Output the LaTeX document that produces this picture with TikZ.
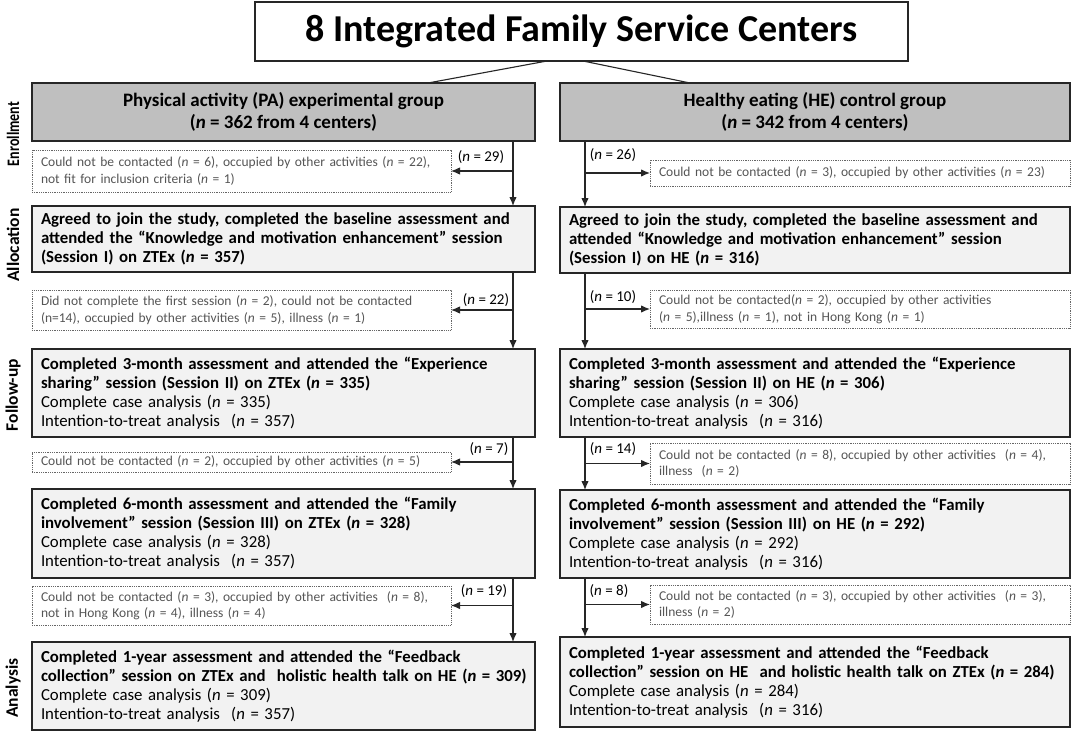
\documentclass[tikz,border=0pt]{standalone}
\usepackage{fontspec}
\setmainfont{Carlito}
\usetikzlibrary{arrows.meta}
\definecolor{hdrgray}{HTML}{BFBFBF}
\definecolor{boxgray}{HTML}{F2F2F2}
\definecolor{edge}{HTML}{262626}
\definecolor{dtext}{HTML}{555555}
\newcommand{\oneline}[1]{\mbox{#1}}
\begin{document}
\begin{tikzpicture}[x=1pt,y=-1pt,
  mbox/.style={draw=edge, line width=1.4pt, fill=boxgray, anchor=north west, align=left,
    inner xsep=9pt, inner ysep=0pt, outer sep=0pt, font=\fontsize{16.8}{19}\selectfont},
  hbox/.style={draw=edge, line width=1.4pt, fill=hdrgray, anchor=north west, align=center,
    inner sep=0pt, outer sep=0pt, font=\bfseries\fontsize{19}{22}\selectfont},
  dbox/.style={draw=black!60, dash pattern=on 1pt off 0.8pt, line width=0.9pt, fill=white,
    anchor=north west, align=left, inner xsep=9pt, inner ysep=0pt, outer sep=0pt,
    text=dtext, font=\fontsize{13.5}{16.5}\selectfont},
  lbl/.style={font=\fontsize{15}{17}\selectfont, inner sep=0pt},
  arr/.style={-{Latex[length=9pt,width=7.5pt]}, line width=1.2pt, draw=edge},
  side/.style={rotate=90, font=\bfseries\fontsize{17.5}{20}\selectfont, inner sep=0pt}]
\useasboundingbox (0,0) rectangle (1074,733);
\fill[white] (0,0) rectangle (1074,733);

\coordinate (lx) at (513,0);
\coordinate (rx) at (585,0);

% title
\node[draw=edge, line width=1.2pt, fill=white, anchor=north west, minimum width=653pt,
  minimum height=59pt, inner sep=0pt, outer sep=0pt,
  font=\bfseries\fontsize{38}{44}\selectfont] (title) at (255,2) {8 Integrated Family Service Centers};

% side labels
\node[side] (s1) at (13,134) {\scalebox{0.8}[1]{Enrollment}};
\node[side] (s2) at (13,245) {Allocation};
\node[side] (s3) at (13,395) {Follow-up};
\node[side] (s4) at (13,688) {Analysis};

% headers
\node[hbox, minimum width=503pt, minimum height=58pt] (pa) at (32,83)
  {Physical activity (PA) experimental group\\(\textit{n} = 362 from 4 centers)};
\node[hbox, minimum width=510pt, minimum height=58pt] (he) at (560,83)
  {Healthy eating (HE) control group\\(\textit{n} = 342 from 4 centers)};

\draw[line width=1.1pt, edge] (title.south -| 547,0) -- (pa.north -| 428,0);
\draw[line width=1.1pt, edge] (title.south -| 583,0) -- (he.north -| 690,0);

% left column
\node[dbox, text width=401pt, minimum height=42pt] (d1L) at (32,150)
  {Could not be contacted (\textit{n} = 6), occupied by other activities (\textit{n} = 22),\\not fit for inclusion criteria (\textit{n} = 1)};
\node[mbox, text width=485pt, minimum height=66pt, font=\bfseries\fontsize{16.8}{19}\selectfont] (aL) at (32,206)
  {\oneline{Agreed to join the study, completed the baseline assessment and}\\\oneline{attended the “Knowledge and motivation enhancement” session}\\(Session I) on ZTEx (\textit{n} = 357)};
\node[dbox, text width=401pt, minimum height=40pt] (d2L) at (32,290)
  {Did not complete the first session (\textit{n} = 2), could not be contacted\\(n=14), occupied by other activities (\textit{n} = 5), illness (\textit{n} = 1)};
\node[mbox, text width=485pt, minimum height=88pt] (bL) at (32,349)
  {\oneline{\textbf{Completed 3-month assessment and attended the  “Experience}}\\\textbf{sharing” session (Session II) on ZTEx (\textit{n} = 335)}\\Complete case analysis (\textit{n} = 335)\\Intention-to-treat analysis~ (\textit{n} = 357)};
\node[dbox, text width=401pt, minimum height=20pt] (d3L) at (32,452)
  {Could not be contacted (\textit{n} = 2), occupied by other activities (\textit{n} = 5)};
\node[mbox, text width=485pt, minimum height=89pt] (cL) at (32,489)
  {\textbf{Completed 6-month assessment and attended the “Family}\\\oneline{\textbf{involvement” session (Session III) on ZTEx (\textit{n} = 328)}}\\Complete case analysis (\textit{n} = 328)\\Intention-to-treat analysis~ (\textit{n} = 357)};
\node[dbox, text width=401pt, minimum height=39pt] (d4L) at (32,586)
  {Could not be contacted (\textit{n} = 3), occupied by other activities~ (\textit{n} = 8),\\not in Hong Kong (\textit{n} = 4), illness (\textit{n} = 4)};
\node[mbox, text width=485pt, minimum height=88pt] (eL) at (32,642)
  {\textbf{Completed 1-year assessment and attended the “Feedback}\\\oneline{\textbf{collection” session on ZTEx and~ holistic health talk on HE (\textit{n} = 309)}}\\Complete case analysis (\textit{n} = 309)\\Intention-to-treat analysis~ (\textit{n} = 357)};

% right column
\node[dbox, text width=402pt, minimum height=26pt] (d1R) at (650,160)
  {Could not be contacted (\textit{n} = 3), occupied by other activities (\textit{n} = 23)};
\node[mbox, text width=492pt, minimum height=66pt, font=\bfseries\fontsize{16.8}{19}\selectfont] (aR) at (560,207)
  {\oneline{Agreed to join the study, completed the baseline assessment and}\\attended “Knowledge and motivation enhancement” session\\(Session I) on HE (\textit{n} = 316)};
\node[dbox, text width=402pt, minimum height=38pt] (d2R) at (650,290)
  {Could not be contacted(\textit{n} = 2), occupied by other activities\\(\textit{n} = 5),illness (\textit{n} = 1), not in Hong Kong (\textit{n} = 1)};
\node[mbox, text width=492pt, minimum height=88pt] (bR) at (560,349)
  {\oneline{\textbf{Completed 3-month assessment and attended the “Experience}}\\\textbf{sharing” session (Session II) on HE (\textit{n} = 306)}\\Complete case analysis (\textit{n} = 306)\\Intention-to-treat analysis~ (\textit{n} = 316)};
\node[dbox, text width=402pt, minimum height=41pt] (d3R) at (650,443)
  {Could not be contacted (\textit{n} = 8), occupied by other activities~ (\textit{n} = 4),\\illness~ (\textit{n} = 2)};
\node[mbox, text width=492pt, minimum height=88pt] (cR) at (560,490)
  {\textbf{Completed 6-month assessment and attended the “Family}\\\textbf{involvement” session (Session III) on HE (\textit{n} = 292)}\\Complete case analysis (\textit{n} = 292)\\Intention-to-treat analysis~ (\textit{n} = 316)};
\node[dbox, text width=402pt, minimum height=39pt] (d4R) at (650,585)
  {Could not be contacted (\textit{n} = 3), occupied by other activities~ (\textit{n} = 3),\\illness (\textit{n} = 2)};
\node[mbox, text width=492pt, minimum height=90pt] (eR) at (560,637)
  {\textbf{Completed 1-year assessment and attended the “Feedback}\\\oneline{\textbf{collection” session on HE~ and holistic health talk on ZTEx (\textit{n} = 284)}}\\Complete case analysis (\textit{n} = 284)\\Intention-to-treat analysis~ (\textit{n} = 316)};

% labels
\node[lbl] (n29) at (481,157) {(\textit{n} = 29)};
\node[lbl] (n22) at (486,300) {(\textit{n} = 22)};
\node[lbl] (n7)  at (489,449) {(\textit{n} = 7)};
\node[lbl] (n19) at (484,591) {(\textit{n} = 19)};
\node[lbl] (n26) at (613,155) {(\textit{n} = 26)};
\node[lbl] (n10) at (613,297) {(\textit{n} = 10)};
\node[lbl] (n14) at (613,449) {(\textit{n} = 14)};
\node[lbl] (n8)  at (609,591) {(\textit{n} = 8)};

% left connectors
\draw[arr] (pa.south -| lx) -- (aL.north -| lx);
\draw[arr] (lx |- d1L.east) -- (d1L.east);
\draw[arr] (aL.south -| lx) -- (bL.north -| lx);
\draw[arr] (lx |- d2L.east) -- (d2L.east);
\draw[arr] (bL.south -| lx) -- (cL.north -| lx);
\draw[arr] (lx |- d3L.east) -- (d3L.east);
\draw[arr] (cL.south -| lx) -- (eL.north -| lx);
\draw[arr] (lx |- d4L.east) -- (d4L.east);

% right connectors
\draw[arr] (he.south -| rx) -- (aR.north -| rx);
\draw[arr] (rx |- d1R.west) -- (d1R.west);
\draw[arr] (aR.south -| rx) -- (bR.north -| rx);
\draw[arr] (rx |- d2R.west) -- (d2R.west);
\draw[arr] (bR.south -| rx) -- (cR.north -| rx);
\draw[arr] (rx |- d3R.west) -- (d3R.west);
\draw[arr] (cR.south -| rx) -- (eR.north -| rx);
\draw[arr] (rx |- d4R.west) -- (d4R.west);
\end{tikzpicture}
\end{document}
